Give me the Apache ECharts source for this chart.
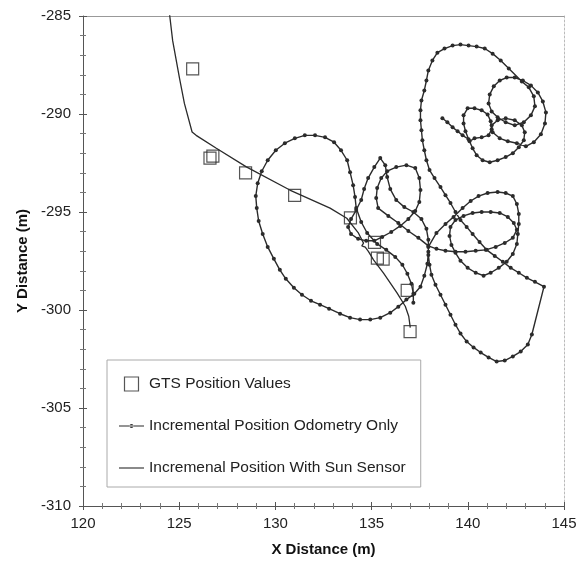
<!DOCTYPE html>
<html>
<head>
<meta charset="utf-8">
<script src="https://cdn.jsdelivr.net/npm/echarts@6/dist/echarts.min.js"></script>
<style>
html,body{margin:0;padding:0;background:#fff;}
#chart{width:586px;height:566px;}
</style>
</head>
<body>
<div id="chart"></div>
<script>
// ---- data ----
const xRange = [120, 145];
const yRange = [-310, -285];
const tickStep = 5;

const seriesNames = ['GTS Position Values', 'Incremental Position Odometry Only', 'Incremenal Position With Sun Sensor'];

const gtsPoints = [
  [125.7,-287.7],[126.6,-292.25],[126.75,-292.15],[128.45,-293.0],[131.0,-294.15],
  [133.9,-295.3],[135.15,-296.55],[135.3,-297.35],[135.6,-297.4],[136.85,-299.0],[137.0,-301.1]
];

const sunSensorPath = [
  [124.45,-284.5],[124.66,-286.26],[125.01,-288.14],[125.27,-289.46],[125.67,-290.92],[125.88,-291.09],
  [126.93,-291.75],[128.49,-292.70],[130.75,-293.88],[132.84,-294.80],[133.71,-295.32],[134.32,-296.08],
  [134.58,-296.59],[134.49,-296.73],[134.67,-296.79],[134.84,-297.02],[135.10,-297.44],[135.62,-298.12],
  [136.32,-299.13],[136.75,-299.81],[136.93,-300.32],[137.01,-300.9]
];

const odometryPath = [
  // upper-right cluster
  [138.68,-290.22],[138.94,-290.42],[139.21,-290.68],[139.47,-290.88],[139.73,-291.09],[140.04,-291.29],
  [139.88,-290.88],[139.78,-290.48],[139.78,-290.07],[139.99,-289.71],[140.35,-289.71],[140.72,-289.81],[141.03,-290.02],[141.19,-290.37],[141.24,-290.78],[141.08,-291.09],[140.72,-291.19],[140.35,-291.24],[140.09,-291.39],
  [140.25,-291.75],[140.46,-292.10],[140.77,-292.36],[141.14,-292.46],[141.55,-292.36],[141.97,-292.20],[142.34,-292.00],
  [142.65,-291.70],[142.91,-291.34],[142.96,-290.93],[142.81,-290.58],[142.44,-290.32],[141.97,-290.22],[141.55,-290.32],[141.24,-290.58],[141.29,-290.93],[141.66,-291.24],[142.08,-291.39],[142.55,-291.49],
  [143.02,-291.65],[143.43,-291.44],[143.80,-291.03],[144.01,-290.48],[144.06,-289.92],[143.90,-289.36],[143.64,-288.90],[143.28,-288.54],[142.86,-288.29],
  [142.44,-288.14],[142.02,-288.14],[141.66,-288.29],[141.35,-288.59],[141.14,-289.00],[141.08,-289.46],[141.24,-289.87],[141.55,-290.17],[141.97,-290.42],[142.44,-290.58],[142.91,-290.42],[143.28,-290.07],[143.49,-289.61],[143.43,-289.10],[143.17,-288.64],[142.81,-288.34],
  // outer arc and descent
  [142.13,-287.68],[141.71,-287.27],[141.29,-286.92],[140.88,-286.66],[140.46,-286.56],[140.04,-286.51],[139.62,-286.46],[139.21,-286.51],[138.79,-286.66],[138.42,-286.87],[138.16,-287.27],[137.95,-287.78],[137.85,-288.29],[137.74,-288.80],[137.59,-289.31],[137.54,-289.81],[137.54,-290.32],[137.59,-290.83],[137.64,-291.34],[137.74,-291.85],[137.85,-292.36],[138.01,-292.86],[138.27,-293.27],[138.58,-293.73],[138.84,-294.14],[139.10,-294.54],[139.36,-295.00],[139.62,-295.41],[139.94,-295.76],[140.25,-296.12],[140.61,-296.53],[140.98,-296.93],[141.40,-297.24],[141.82,-297.54],[142.23,-297.85],[142.65,-298.10],[143.07,-298.36],[143.49,-298.56],[143.96,-298.81],
  // lower-right loop
  [143.33,-301.25],[143.12,-301.76],[142.75,-302.12],[142.34,-302.37],[141.92,-302.58],[141.50,-302.63],[141.08,-302.42],[140.67,-302.17],[140.30,-301.91],[139.94,-301.61],[139.62,-301.20],[139.36,-300.75],[139.10,-300.24],[138.84,-299.73],[138.58,-299.22],[138.32,-298.71],[138.11,-298.20],[138.01,-297.69],[137.95,-297.19],[137.95,-296.78],
  // twin loops
  [138.37,-296.07],[138.84,-295.61],[139.26,-295.25],[139.73,-294.80],[140.15,-294.44],[140.56,-294.19],[141.03,-294.03],[141.55,-293.98],[141.97,-294.03],[142.34,-294.19],[142.55,-294.59],[142.65,-295.10],[142.65,-295.61],[142.60,-296.12],[142.55,-296.63],[142.34,-297.14],[142.02,-297.54],[141.61,-297.85],[141.19,-298.10],[140.82,-298.25],[140.41,-298.10],[139.99,-297.85],[139.62,-297.49],[139.36,-297.08],[139.15,-296.68],[139.05,-296.22],[139.10,-295.76],[139.36,-295.41],[139.78,-295.20],[140.25,-295.05],[140.72,-295.00],[141.19,-295.00],[141.66,-295.05],[142.08,-295.25],[142.39,-295.56],[142.55,-295.91],[142.34,-296.32],[141.92,-296.58],[141.45,-296.78],[140.93,-296.93],[140.41,-296.98],[139.88,-297.03],[139.36,-297.03],[138.84,-296.98],[138.37,-296.88],[137.95,-296.73],
  // middle lobes, big left loop, end
  [137.43,-296.32],[136.91,-295.97],[136.39,-295.56],[135.87,-295.20],[135.34,-294.80],[135.24,-294.29],[135.29,-293.78],[135.50,-293.27],[135.81,-292.92],[136.28,-292.71],[136.81,-292.61],[137.27,-292.76],[137.48,-293.27],[137.54,-293.88],[137.48,-294.49],[137.27,-294.95],[136.91,-295.36],[136.49,-295.71],[136.02,-296.02],[135.55,-296.27],[135.14,-296.47],[134.72,-296.47],[134.30,-296.37],[133.93,-296.12],[133.78,-295.76],[133.93,-295.36],[134.20,-294.90],[134.46,-294.39],[134.61,-293.83],[134.82,-293.27],[135.14,-292.71],[135.45,-292.25],[135.71,-292.61],[135.81,-293.22],[135.97,-293.83],[136.28,-294.39],[136.70,-294.75],[137.17,-295.00],[137.59,-295.36],[137.85,-295.86],[137.95,-296.42],[137.95,-297.03],[137.90,-297.64],[137.74,-298.25],[137.54,-298.81],[137.22,-299.17],[136.81,-299.47],[136.39,-299.83],[135.97,-300.14],[135.45,-300.39],[134.93,-300.49],[134.40,-300.49],[133.88,-300.39],[133.36,-300.19],[132.79,-299.93],[132.32,-299.73],[131.85,-299.53],[131.38,-299.22],[130.96,-298.86],[130.54,-298.41],[130.23,-297.95],[129.92,-297.39],[129.60,-296.78],[129.34,-296.12],[129.13,-295.46],[129.03,-294.80],[128.98,-294.19],[129.08,-293.53],[129.29,-292.92],[129.60,-292.36],[130.02,-291.85],[130.49,-291.49],[131.01,-291.24],[131.53,-291.09],[132.06,-291.09],[132.58,-291.19],[133.05,-291.44],[133.41,-291.85],[133.73,-292.36],[133.88,-292.97],[134.04,-293.63],[134.14,-294.24],[134.20,-294.80],[134.46,-295.51],[134.77,-296.07],[135.29,-296.63],[135.76,-296.93],[136.23,-297.29],[136.60,-297.69],[136.86,-298.15],[137.07,-298.66],[137.17,-299.17],[137.17,-299.63]
];

// ---- chart ----
const FONT = '"Liberation Sans", Arial, Helvetica, sans-serif';
const INK = '#2b2b2b';
const chart = echarts.init(document.getElementById('chart'), null, {renderer: 'canvas'});

function baseAxis(extra) {
  return Object.assign({
    type: 'value',
    splitLine: {show: false},
    axisLabel: {show: false},
    axisTick: {show: false},
    axisLine: {show: false}
  }, extra);
}

const option = {
  animation: false,
  backgroundColor: '#fff',
  grid: {left: 83, right: 22, top: 16, bottom: 60, containLabel: false},
  xAxis: [
    baseAxis({
      min: xRange[0], max: xRange[1], interval: tickStep, position: 'bottom',
      axisLine: {show: true, lineStyle: {color: '#555', width: 1}},
      axisTick: {show: true, length: 4, lineStyle: {color: '#555'}},
      minorTick: {show: true, splitNumber: 5, length: 3, lineStyle: {color: '#777'}},
      axisLabel: {show: true, fontSize: 15, color: '#222', margin: 10, fontFamily: FONT},
      name: 'X Distance (m)', nameLocation: 'middle', nameGap: 36,
      nameTextStyle: {fontSize: 15, fontWeight: 'bold', color: '#111', fontFamily: FONT}
    }),
    baseAxis({
      min: xRange[0], max: xRange[1], interval: tickStep, position: 'bottom',
      axisTick: {show: true, inside: true, length: 4, lineStyle: {color: '#555'}},
      minorTick: {show: true, splitNumber: 5, length: 3, lineStyle: {color: '#777'}}
    }),
    baseAxis({
      min: xRange[0], max: xRange[1], interval: tickStep, position: 'top',
      axisLine: {show: true, lineStyle: {color: '#999', width: 1}}
    })
  ],
  yAxis: [
    baseAxis({
      min: yRange[0], max: yRange[1], interval: tickStep, position: 'left',
      axisLine: {show: true, lineStyle: {color: '#555', width: 1}},
      axisTick: {show: true, length: 4, lineStyle: {color: '#555'}},
      minorTick: {show: true, splitNumber: 5, length: 3, lineStyle: {color: '#777'}},
      axisLabel: {show: true, fontSize: 15, color: '#222', margin: 12, fontFamily: FONT},
      name: 'Y Distance (m)', nameLocation: 'middle', nameGap: 52,
      nameTextStyle: {fontSize: 15, fontWeight: 'bold', color: '#111', fontFamily: FONT}
    }),
    baseAxis({
      min: yRange[0], max: yRange[1], interval: tickStep, position: 'left',
      axisTick: {show: true, inside: true, length: 4, lineStyle: {color: '#555'}},
      minorTick: {show: true, splitNumber: 5, length: 3, lineStyle: {color: '#777'}}
    }),
    baseAxis({
      min: yRange[0], max: yRange[1], interval: tickStep, position: 'right',
      axisLine: {show: true, lineStyle: {color: '#bbb', width: 1, type: [2, 2]}}
    })
  ],
  legend: {
    orient: 'vertical',
    left: 107, top: 360,
    padding: [16, 15, 11, 12],
    itemGap: 26,
    itemWidth: 25,
    itemHeight: 14,
    borderColor: '#aaa',
    borderWidth: 1,
    backgroundColor: '#fff',
    selectedMode: false,
    textStyle: {fontSize: 15.5, color: '#222', fontFamily: FONT},
    data: [
      {name: seriesNames[0], icon: 'path://M0,0L10,0L10,10L0,10Z',
       itemStyle: {color: 'rgba(0,0,0,0)', borderColor: INK, borderWidth: 1.2}},
      {name: seriesNames[1], icon: 'path://M0,1.6L25,1.6L25,2.6L0,2.6Z M10.5,2.1A2,2 0 1,0 14.5,2.1A2,2 0 1,0 10.5,2.1Z',
       itemStyle: {color: INK, borderWidth: 0}},
      {name: seriesNames[2], icon: 'path://M0,0L25,0L25,1.1L0,1.1Z',
       itemStyle: {color: INK, borderWidth: 0}}
    ]
  },
  series: [
    {
      name: seriesNames[1], type: 'line', data: odometryPath,
      xAxisIndex: 0, yAxisIndex: 0,
      symbol: 'circle', symbolSize: 4, showSymbol: true,
      itemStyle: {color: INK},
      lineStyle: {color: INK, width: 1.4},
      z: 2
    },
    {
      name: seriesNames[2], type: 'line', data: sunSensorPath,
      xAxisIndex: 0, yAxisIndex: 0,
      symbol: 'none',
      itemStyle: {color: INK},
      lineStyle: {color: INK, width: 1.3},
      z: 3
    },
    {
      name: seriesNames[0], type: 'scatter', data: gtsPoints,
      xAxisIndex: 0, yAxisIndex: 0,
      symbol: 'rect', symbolSize: 12,
      itemStyle: {color: 'rgba(0,0,0,0)', borderColor: INK, borderWidth: 1.2},
      z: 4
    }
  ]
};
chart.setOption(option);
</script>
</body>
</html>
